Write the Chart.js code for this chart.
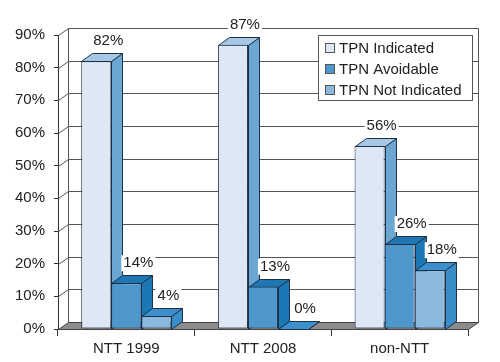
<!DOCTYPE html>
<html>
<head>
<meta charset="utf-8">
<script src="https://cdn.jsdelivr.net/npm/chart.js@4.4.0/dist/chart.umd.min.js"></script>
<style>
  html, body { margin: 0; padding: 0; background: #fff; }
  #wrap { width: 500px; height: 362px; }
</style>
</head>
<body>
<div id="wrap"><canvas id="tpnChart"></canvas></div>
<script>
// TPN usage by group (percent)
const categories = ["NTT 1999", "NTT 2008", "non-NTT"];
const seriesNames = ["TPN Indicated", "TPN Avoidable", "TPN Not Indicated"];
const tpnIndicated = [82, 87, 56];
const tpnAvoidable = [14, 13, 26];
const tpnNotIndicated = [4, 0, 18];
const yMax = 90;
const yStep = 10;

// face colours: front, top, side
const faceColors = [
    { front: "#dde8f4", top: "#a7c7e4", side: "#6ca7d3" },
    { front: "#4e97cc", top: "#1e76b2", side: "#1c77b5" },
    { front: "#8bb9de", top: "#3c90cb", side: "#3a8ec8" }
];
const outline = "#1d3149";
const FONT = "15px 'Liberation Sans', Arial, sans-serif";

// 3D depth for bars and walls
const bar3d = { dx: 11, dy: 8 };
const wall3d = { dx: 10, dy: 7 };

function poly(ctx, pts, fill, stroke) {
    ctx.beginPath();
    ctx.moveTo(pts[0][0], pts[0][1]);
    for (let i = 1; i < pts.length; i++) ctx.lineTo(pts[i][0], pts[i][1]);
    ctx.closePath();
    if (fill) { ctx.fillStyle = fill; ctx.fill(); }
    if (stroke) { ctx.strokeStyle = stroke; ctx.lineWidth = 1; ctx.stroke(); }
}

const threeD = {
    id: "threeD",
    beforeDatasetsDraw(chart) {
        const ctx = chart.ctx;
        const area = chart.chartArea;
        const y = chart.scales.y;
        const L = area.left + 0.5, R = area.right + 0.5, B = area.bottom + 0.5;
        ctx.save();

        // back wall gridlines + diagonals from the front axis
        ctx.strokeStyle = "#555";
        ctx.lineWidth = 1;
        y.ticks.forEach(t => {
            if (t.value === 0) return;
            const py = Math.round(y.getPixelForValue(t.value)) + 0.5;
            ctx.beginPath();
            ctx.moveTo(L, py);
            ctx.lineTo(L + wall3d.dx, py - wall3d.dy);
            ctx.lineTo(R + wall3d.dx, py - wall3d.dy);
            ctx.stroke();
        });
        const topY = Math.round(y.getPixelForValue(yMax)) + 0.5;
        ctx.beginPath();
        ctx.moveTo(L + wall3d.dx, topY - wall3d.dy);
        ctx.lineTo(L + wall3d.dx, B - wall3d.dy);
        ctx.moveTo(R + wall3d.dx, topY - wall3d.dy);
        ctx.lineTo(R + wall3d.dx, B - wall3d.dy);
        ctx.stroke();

        // floor
        poly(ctx, [[L, B], [R, B], [R + wall3d.dx, B - wall3d.dy], [L + wall3d.dx, B - wall3d.dy]], "#8c8c8c", "#444");

        // bar sides and tops
        chart.data.datasets.forEach((ds, i) => {
            const meta = chart.getDatasetMeta(i);
            const c = faceColors[i];
            meta.data.forEach(bar => {
                const p = bar.getProps(["x", "y", "base", "width"], true);
                const l = Math.round(p.x - p.width / 2) + 0.5;
                const r = Math.round(p.x + p.width / 2) + 0.5;
                const t = Math.round(p.y) + 0.5;
                const b = Math.round(p.base) + 0.5;
                poly(ctx, [[r, t], [r + bar3d.dx, t - bar3d.dy], [r + bar3d.dx, b - bar3d.dy], [r, b]], c.side, outline);
                poly(ctx, [[l, t], [r, t], [r + bar3d.dx, t - bar3d.dy], [l + bar3d.dx, t - bar3d.dy]], c.top, outline);
            });
        });
        ctx.restore();
    },
    afterDatasetsDraw(chart) {
        const ctx = chart.ctx;
        ctx.save();
        ctx.font = FONT;
        ctx.textAlign = "center";
        ctx.textBaseline = "middle";
        chart.data.datasets.forEach((ds, i) => {
            const meta = chart.getDatasetMeta(i);
            meta.data.forEach((bar, j) => {
                const text = ds.data[j] + "%";
                const cx = bar.x + 12;
                const cy = bar.y - bar3d.dy - 12;
                const w = ctx.measureText(text).width;
                ctx.fillStyle = "#fff";
                ctx.fillRect(cx - w / 2 - 2, cy - 8, w + 4, 16);
                ctx.fillStyle = "#222";
                ctx.fillText(text, cx, cy);
            });
        });
        ctx.restore();
    },
    afterDraw(chart) {
        // legend box inside the plot
        const ctx = chart.ctx;
        const bx = 318.5, by = 35.5, bw = 154, bh = 65;
        ctx.save();
        ctx.fillStyle = "#fff";
        ctx.fillRect(bx, by, bw, bh);
        ctx.strokeStyle = "#555";
        ctx.lineWidth = 1;
        ctx.strokeRect(bx, by, bw, bh);
        ctx.font = FONT;
        ctx.textAlign = "left";
        ctx.textBaseline = "middle";
        chart.data.datasets.forEach((ds, i) => {
            const ry = 48 + i * 21;
            ctx.fillStyle = faceColors[i].front;
            ctx.fillRect(325.5, ry - 4.5, 9, 9);
            ctx.strokeStyle = "#555";
            ctx.strokeRect(325.5, ry - 4.5, 9, 9);
            ctx.fillStyle = "#222";
            ctx.fillText(ds.label, 339, ry + 1);
        });
        ctx.restore();
    }
};

const seriesValues = [tpnIndicated, tpnAvoidable, tpnNotIndicated];

new Chart(document.getElementById("tpnChart"), {
    type: "bar",
    data: {
        labels: categories,
        datasets: seriesValues.map((vals, i) => ({
            label: seriesNames[i],
            data: vals,
            backgroundColor: faceColors[i].front,
            borderColor: outline,
            borderWidth: 1,
            borderSkipped: false,
            categoryPercentage: 0.66,
            barPercentage: 1
        }))
    },
    options: {
        responsive: true,
        maintainAspectRatio: false,
        animation: false,
        layout: {
            padding: { top: 35, right: 32, left: 0, bottom: 0 }
        },
        plugins: {
            legend: { display: false },
            tooltip: { enabled: false }
        },
        scales: {
            y: {
                min: 0,
                max: yMax,
                afterFit: s => { s.width = 58; },
                ticks: {
                    stepSize: yStep,
                    color: "#222",
                    font: { family: "'Liberation Sans', Arial, sans-serif", size: 15 },
                    padding: 9,
                    callback: v => v + "%"
                },
                grid: {
                    drawOnChartArea: false,
                    tickLength: 4,
                    color: "#333"
                },
                border: { display: true, color: "#333" }
            },
            x: {
                afterFit: s => { s.height = 33; },
                ticks: {
                    color: "#222",
                    font: { family: "'Liberation Sans', Arial, sans-serif", size: 15 },
                    padding: 4
                },
                grid: {
                    drawOnChartArea: false,
                    tickLength: 7,
                    color: "#333",
                    offset: true
                },
                border: { display: true, color: "#333" }
            }
        }
    },
    plugins: [threeD]
});
</script>
</body>
</html>
